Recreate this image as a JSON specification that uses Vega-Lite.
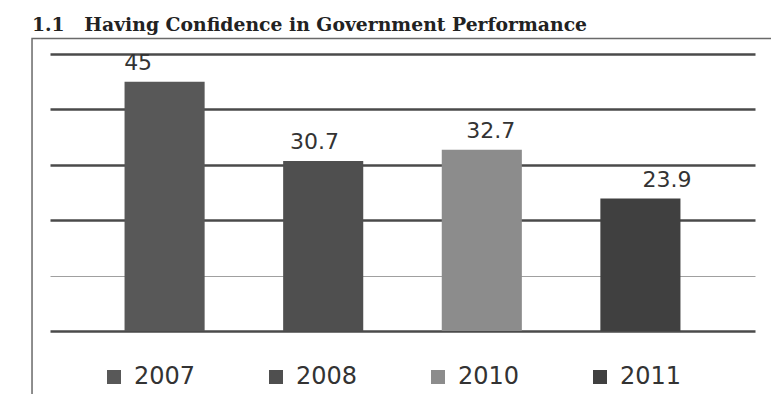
{
  "$schema": "https://vega.github.io/schema/vega-lite/v6.json",
  "autosize": {"type": "none"},
  "width": 705,
  "height": 277,
  "padding": {"left": 50, "top": 54, "right": 16, "bottom": 63},
  "background": "white",
  "title": {
    "text": "1.1\u00a0\u00a0\u00a0Having Confidence in Government Performance",
    "anchor": "start",
    "frame": "group",
    "font": "DejaVu Serif",
    "fontWeight": "bold",
    "fontSize": 18.8,
    "color": "#222222",
    "baseline": "alphabetic",
    "offset": 7,
    "dy": 19,
    "dx": -18
  },
  "config": {
    "view": {"stroke": null},
    "font": "DejaVu Sans"
  },
  "data": {
    "values": [
      {"Year": "2007", "Value": 45},
      {"Year": "2008", "Value": 30.7},
      {"Year": "2010", "Value": 32.7},
      {"Year": "2011", "Value": 23.9}
    ]
  },
  "layer": [
    {
      "mark": {"type": "bar"},
      "encoding": {
        "x": {
          "field": "Year",
          "type": "nominal",
          "sort": null,
          "axis": null,
          "scale": {"paddingInner": 0.495, "paddingOuter": 0.47}
        },
        "y": {
          "field": "Value",
          "type": "quantitative",
          "scale": {"domain": [0, 50], "nice": false, "zero": true},
          "axis": {
            "title": null,
            "labels": false,
            "ticks": false,
            "domain": false,
            "grid": true,
            "values": [0, 10, 20, 30, 40, 50],
            "gridColor": {"condition": {"test": "datum.value == 10", "value": "#a0a0a0"}, "value": "#4a4a4a"},
            "gridWidth": {"condition": {"test": "datum.value == 10", "value": 1}, "value": 2.5},
            "gridOpacity": 1,
            "zindex": 0
          }
        },
        "color": {
          "field": "Year",
          "type": "nominal",
          "scale": {
            "domain": ["2007", "2008", "2010", "2011"],
            "range": ["#585858", "#4f4f4f", "#8c8c8c", "#404040"]
          },
          "legend": {
            "title": null,
            "orient": "none",
            "legendX": 52,
            "legendY": 311,
            "direction": "horizontal",
            "columns": 4,
            "columnPadding": 68,
            "symbolType": "square",
            "symbolSize": 196,
            "symbolStrokeWidth": 0,
            "symbolOpacity": 1,
            "labelFont": "DejaVu Sans",
            "labelFontSize": 24,
            "labelColor": "#333333",
            "labelOffset": 8,
            "labelLimit": 200
          }
        }
      }
    },
    {
      "mark": {
        "type": "text",
        "baseline": "alphabetic",
        "dy": -12,
        "font": "DejaVu Sans",
        "fontSize": 22,
        "color": "#333333"
      },
      "encoding": {
        "x": {"field": "Year", "type": "nominal", "sort": null, "axis": null},
        "y": {"field": "Value", "type": "quantitative", "scale": {"domain": [0, 50], "nice": false}},
        "text": {"field": "Value", "type": "quantitative"}
      }
    },
    {
      "data": {"values": [{"frame": "box"}]},
      "mark": {"type": "rect", "filled": false, "stroke": "#6a6a6a", "strokeWidth": 1.5, "clip": false},
      "encoding": {
        "x": {"datum": -0.0255, "type": "quantitative", "scale": {"domain": [0, 1], "nice": false, "zero": false}, "axis": null},
        "x2": {"datum": 1.2},
        "y": {"datum": 52.8, "type": "quantitative", "scale": {"domain": [0, 50], "nice": false}},
        "y2": {"datum": -15}
      }
    }
  ],
  "resolve": {"scale": {"x": "independent"}}
}
